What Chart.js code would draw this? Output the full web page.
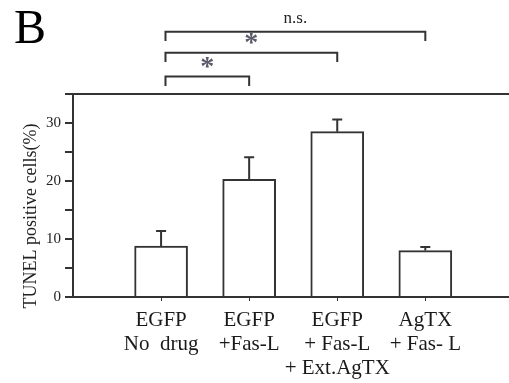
<!DOCTYPE html>
<html>
<head>
    <meta charset="UTF-8">
    <title>TUNEL</title>
    <script src="https://cdn.jsdelivr.net/npm/chart.js"></script>
    <style>
        body { margin: 0; background: #fff; }
        #wrap { width: 509px; height: 383px; }
    </style>
</head>
<body>
    <div id="wrap"><canvas id="chart"></canvas></div>

    <script>
        // data
        const groups = [
            ['EGFP', 'No  drug'],
            ['EGFP', '+Fas-L'],
            ['EGFP', '+ Fas-L', '+ Ext.AgTX'],
            ['AgTX', '+ Fas- L']
        ];
        const tunel = [8.8, 20.3, 28.5, 8.0];
        const sem = [2.6, 3.8, 2.1, 0.6];
        const yTicks = [0, 10, 20, 30];
        // comparisons: from group, to group, level (in % units above the axis), label
        const brackets = [
            { from: 0, to: 1, level: 38.0, label: '*' },
            { from: 0, to: 2, level: 42.1, label: '*' },
            { from: 0, to: 3, level: 45.75, label: 'n.s.' }
        ];

        const ink = '#333';
        const serif = '"Liberation Serif", "DejaVu Serif", serif';

        const extras = {
            id: 'extras',
            afterDatasetsDraw(chart) {
                const ctx = chart.ctx;
                const xs = chart.scales.x, ys = chart.scales.y;
                const area = chart.chartArea;
                ctx.save();
                ctx.strokeStyle = ink;
                ctx.lineWidth = 2;

                // top frame line
                ctx.beginPath();
                ctx.moveTo(area.left - 5, area.top);
                ctx.lineTo(area.right, area.top);
                ctx.stroke();

                // error bars (upper only)
                tunel.forEach((v, i) => {
                    const x = xs.getPixelForValue(i + 1);
                    const y0 = ys.getPixelForValue(v);
                    const y1 = ys.getPixelForValue(v + sem[i]);
                    ctx.beginPath();
                    ctx.moveTo(x, y0);
                    ctx.lineTo(x, y1);
                    ctx.moveTo(x - 5, y1);
                    ctx.lineTo(x + 5, y1);
                    ctx.stroke();
                });

                // significance brackets
                brackets.forEach(b => {
                    const x0 = xs.getPixelForValue(b.from + 1.05);
                    const x1 = xs.getPixelForValue(b.to + 1);
                    const y = ys.getPixelForValue(b.level);
                    const yl = ys.getPixelForValue(b.level - 1.6);
                    ctx.beginPath();
                    ctx.moveTo(x0, yl);
                    ctx.lineTo(x0, y);
                    ctx.lineTo(x1, y);
                    ctx.lineTo(x1, yl);
                    ctx.stroke();
                    ctx.textAlign = 'center';
                    if (b.label === '*') {
                        ctx.fillStyle = '#5a5a68';
                        ctx.font = 'bold 28px ' + serif;
                        ctx.textBaseline = 'alphabetic';
                        ctx.fillText(b.label, (x0 + x1) / 2, y - 2);
                    } else {
                        ctx.fillStyle = '#222';
                        ctx.font = '17px ' + serif;
                        ctx.textBaseline = 'middle';
                        ctx.fillText(b.label, (x0 + x1) / 2, y - 13);
                    }
                });

                // panel letter
                ctx.fillStyle = '#000';
                ctx.font = '48px ' + serif;
                ctx.textAlign = 'left';
                ctx.textBaseline = 'alphabetic';
                ctx.fillText('B', 14, 43);

                // y axis title
                ctx.translate(31, 216);
                ctx.rotate(-Math.PI / 2);
                ctx.font = '18px ' + serif;
                ctx.textAlign = 'center';
                ctx.textBaseline = 'middle';
                ctx.fillStyle = '#222';
                ctx.fillText('TUNEL positive cells(%)', 0, 0);
                ctx.restore();
            }
        };

        const ctx = document.getElementById('chart').getContext('2d');
        new Chart(ctx, {
            type: 'bar',
            data: {
                datasets: [{
                    data: tunel.map((v, i) => ({ x: i + 1, y: v })),
                    backgroundColor: '#fff',
                    borderColor: ink,
                    borderWidth: 2,
                    borderSkipped: 'bottom',
                    barThickness: 53
                }]
            },
            options: {
                responsive: true,
                maintainAspectRatio: false,
                animation: false,
                layout: { padding: { top: 94, left: 0, right: 0, bottom: 0 } },
                plugins: {
                    legend: { display: false },
                    tooltip: { enabled: false }
                },
                scales: {
                    x: {
                        type: 'linear',
                        offset: false,
                        min: 0,
                        max: 4.95,
                        afterBuildTicks: s => { s.ticks = groups.map((g, i) => ({ value: i + 1 })); },
                        afterFit: s => { s.height = 86; },
                        grid: { offset: false, drawOnChartArea: false, tickLength: 4, color: ink, lineWidth: 1 },
                        border: { color: ink, width: 2 },
                        ticks: {
                            autoSkip: false,
                            maxRotation: 0,
                            padding: 7,
                            color: '#1a1a1a',
                            font: { family: serif, size: 21, lineHeight: 1.16 },
                            callback: v => groups[v - 1]
                        }
                    },
                    y: {
                        min: 0,
                        max: 35,
                        afterFit: s => { s.width = 73; },
                        grid: { drawOnChartArea: false, tickLength: 8, color: ink, lineWidth: 2 },
                        border: { color: ink, width: 2 },
                        ticks: {
                            stepSize: 5,
                            padding: 4,
                            color: '#222',
                            font: { family: serif, size: 15 },
                            callback: v => yTicks.includes(v) ? String(v) : ''
                        }
                    }
                }
            },
            plugins: [extras]
        });
    </script>
</body>
</html>
